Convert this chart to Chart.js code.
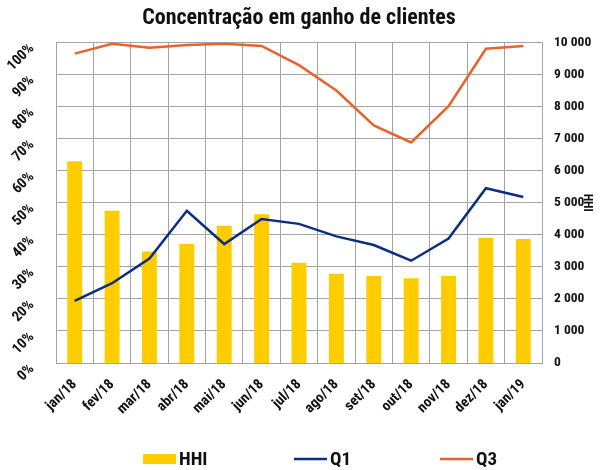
<!DOCTYPE html>
<html>
<head>
<meta charset="utf-8">
<script src="https://cdn.jsdelivr.net/npm/chart.js@4.4.1/dist/chart.umd.min.js"></script>
<style>
  html, body { margin: 0; padding: 0; background: #fff; }
  #wrap { width: 606px; height: 470px; position: relative; }
</style>
</head>
<body>
<div id="wrap"><canvas id="c" width="606" height="470"></canvas></div>
<script>
// Monthly categories
const months = ['jan/18', 'fev/18', 'mar/18', 'abr/18', 'mai/18', 'jun/18', 'jul/18',
                'ago/18', 'set/18', 'out/18', 'nov/18', 'dez/18', 'jan/19'];
// Herfindahl-Hirschman index (right axis)
const hhi = [6290, 4750, 3480, 3710, 4280, 4640, 3130, 2780, 2710, 2640, 2710, 3910, 3870];
// Share of client gains, quartiles (left axis, %)
const q1 = [19.4, 24.9, 32.6, 47.5, 37.1, 44.9, 43.4, 39.5, 36.8, 31.9, 38.8, 54.5, 51.8];
const q3 = [96.5, 99.6, 98.3, 99.2, 99.6, 98.9, 92.9, 85.0, 74.1, 68.8, 80.1, 98.0, 98.9];
// Axis tick labels
const pctTicks = ['0%', '10%', '20%', '30%', '40%', '50%', '60%', '70%', '80%', '90%', '100%'];
const hhiTicks = ['0', '1 000', '2 000', '3 000', '4 000', '5 000', '6 000', '7 000', '8 000', '9 000', '10 000'];

const FONT = '"Roboto Condensed", "Liberation Sans", Arial, sans-serif';
const GRID = '#a3a3a3';
const INK = '#111111';

// Legend drawn below the axis labels, spaced out across the width
const bottomLegend = {
  id: 'bottomLegend',
  afterDraw(chart) {
    const c = chart.ctx;
    const y = 459;
    const items = [
      { x: 143, ds: chart.data.datasets[0], bar: true },
      { x: 294, ds: chart.data.datasets[1] },
      { x: 440, ds: chart.data.datasets[2] }
    ];
    c.save();
    c.font = 'bold 19px ' + FONT;
    c.textBaseline = 'middle';
    c.textAlign = 'left';
    for (const it of items) {
      if (it.bar) {
        c.fillStyle = it.ds.backgroundColor;
        c.fillRect(it.x, y - 5, 33, 10);
      } else {
        c.strokeStyle = it.ds.borderColor;
        c.lineWidth = 2.5;
        c.beginPath();
        c.moveTo(it.x, y);
        c.lineTo(it.x + 33, y);
        c.stroke();
      }
      c.fillStyle = INK;
      c.fillText(it.ds.label, it.x + 36, y + 1);
    }
    c.restore();
  }
};

new Chart(document.getElementById('c'), {
  type: 'bar',
  data: {
    labels: months,
    datasets: [
      {
        type: 'bar', label: 'HHI', data: hhi, yAxisID: 'yHHI',
        backgroundColor: '#FFCC00', borderWidth: 0,
        barPercentage: 0.4, categoryPercentage: 1.0, order: 3
      },
      {
        type: 'line', label: 'Q1', data: q1, yAxisID: 'yPct',
        borderColor: '#0B2E82', borderWidth: 2.5, pointRadius: 0,
        tension: 0, fill: false, order: 1
      },
      {
        type: 'line', label: 'Q3', data: q3, yAxisID: 'yPct',
        borderColor: '#E8622C', borderWidth: 2.5, pointRadius: 0,
        tension: 0, fill: false, order: 2
      }
    ]
  },
  options: {
    responsive: false,
    animation: false,
    layout: { padding: { left: 0, right: 0, top: 0, bottom: 37 } },
    plugins: {
      legend: { display: false },
      tooltip: { enabled: false },
      title: {
        display: true,
        fullSize: false,
        text: 'Concentração em ganho de clientes',
        color: INK,
        font: { family: FONT, size: 22, weight: 'bold' },
        padding: { top: 5, bottom: 11 }
      }
    },
    scales: {
      x: {
        grid: { color: GRID, lineWidth: 1, drawTicks: false, offset: true },
        border: { color: GRID, width: 1 },
        ticks: {
          color: INK, font: { family: FONT, size: 14.5, weight: 'bold' },
          minRotation: 45, maxRotation: 45, padding: 13, autoSkip: false
        },
        afterFit(s) { s.height = 70; }
      },
      yPct: {
        position: 'left', min: 0, max: 100,
        grid: { color: GRID, lineWidth: 1, drawTicks: false },
        border: { color: GRID, width: 1 },
        ticks: {
          stepSize: 10, color: INK, padding: 24, labelOffset: 4,
          font: { family: FONT, size: 14.5, weight: 'bold' },
          minRotation: 45, maxRotation: 45,
          callback: (v, i) => pctTicks[i]
        },
        afterFit(s) { s.width = 56; }
      },
      yHHI: {
        position: 'right', min: 0, max: 10000,
        grid: { display: false, drawTicks: false },
        border: { color: GRID, width: 1 },
        ticks: {
          stepSize: 1000, color: INK, padding: 12,
          font: { family: FONT, size: 13.5, weight: 'bold' },
          callback: (v, i) => hhiTicks[i]
        },
        title: {
          display: true, text: 'HHI', color: INK,
          font: { family: FONT, size: 12, weight: 'bold' },
          padding: { top: 12, bottom: 0 }
        },
        afterFit(s) { s.width = 64; }
      }
    }
  },
  plugins: [bottomLegend]
});
</script>
</body>
</html>
